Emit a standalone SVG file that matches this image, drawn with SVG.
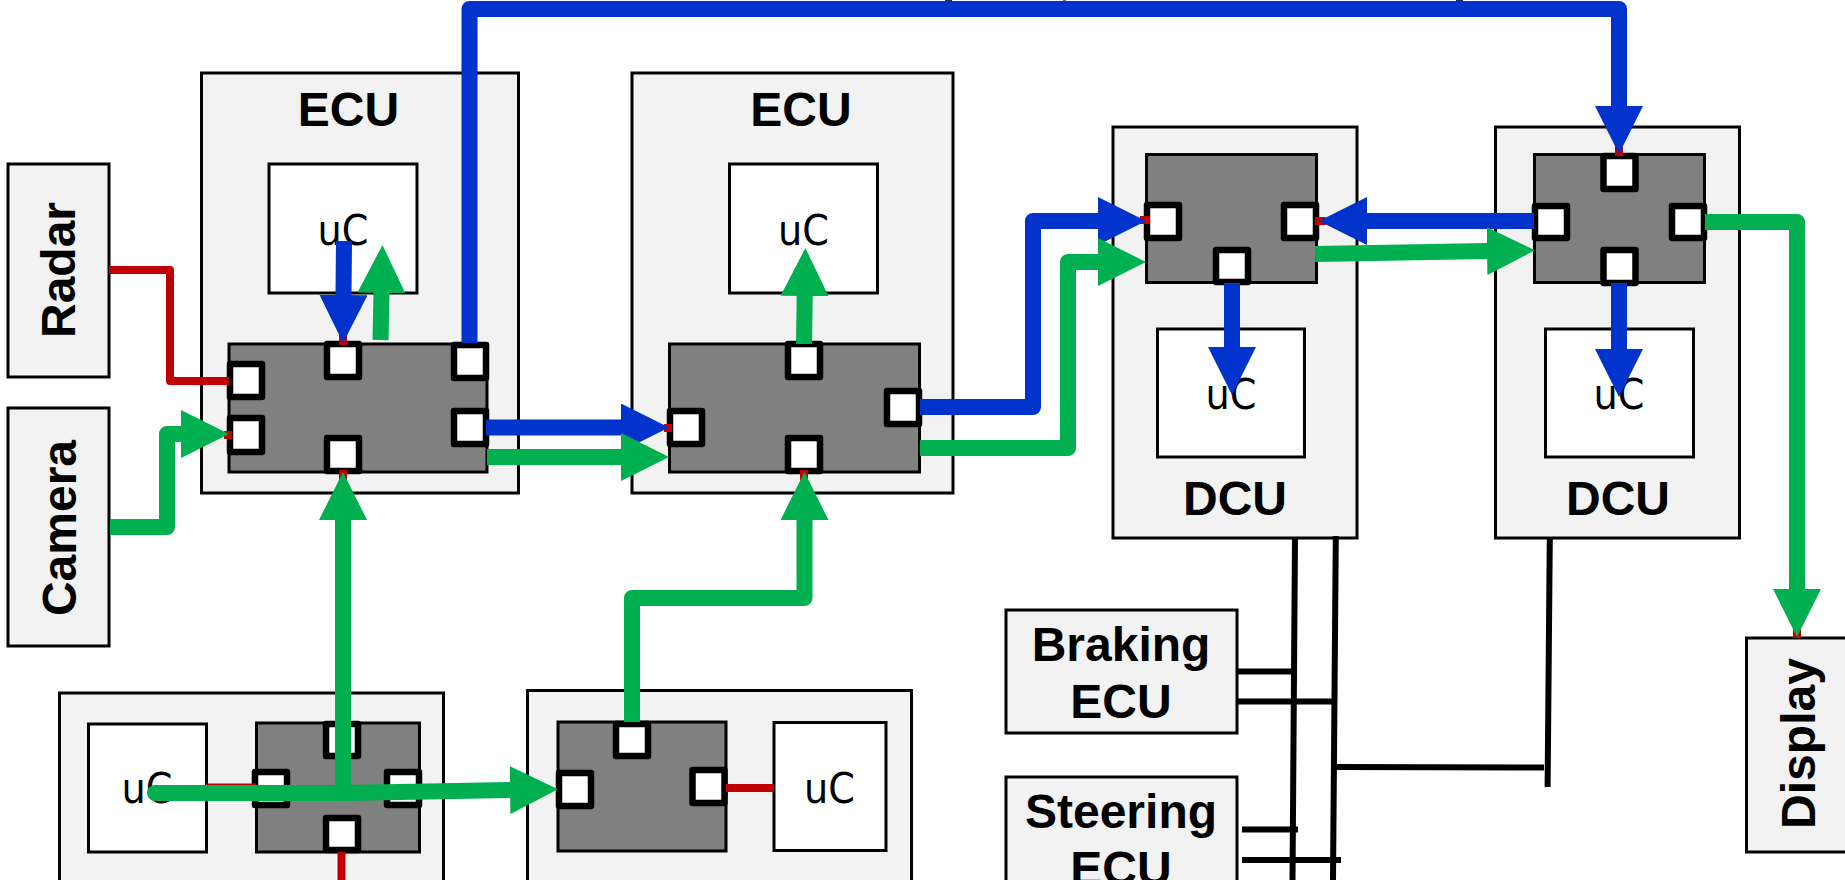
<svg xmlns="http://www.w3.org/2000/svg" width="1845" height="880" viewBox="0 0 1845 880">
<style>
.box{fill:#f2f2f2;stroke:#000;stroke-width:3}
.uc{fill:#fff;stroke:#000;stroke-width:3}
.gw{fill:#808080;stroke:#000;stroke-width:3}
.port{fill:#fff;stroke:#000;stroke-width:6.500;stroke-linejoin:round}
.t{font-family:"Liberation Sans",Arial,sans-serif;font-weight:700;font-size:48px;text-anchor:middle;fill:#000}
.u{font-family:"DejaVu Sans Condensed","DejaVu Sans",sans-serif;font-size:42.500px;text-anchor:middle;fill:#000}
.l{fill:none;stroke-linejoin:round;stroke-width:16}
.b{stroke:#0033cc}
.g{stroke:#00b050}
.bm{marker-end:url(#hb)}
.gm{marker-end:url(#hg)}
.r{fill:none;stroke:#c00000;stroke-width:8;stroke-linejoin:round}
.k{fill:none;stroke:#000;stroke-width:6}
</style>
<defs>
<marker id="hb" markerUnits="userSpaceOnUse" markerWidth="49" markerHeight="48" refX="1" refY="24" orient="auto"><path d="M0 0L48 24L0 48Z" fill="#0033cc"/></marker>
<marker id="hg" markerUnits="userSpaceOnUse" markerWidth="49" markerHeight="48" refX="1" refY="24" orient="auto"><path d="M0 0L48 24L0 48Z" fill="#00b050"/></marker>
</defs>
<rect x="945" y="0" width="7" height="4" fill="#10307a"/>
<rect x="1063" y="0" width="3" height="2" fill="#667"/>
<rect x="1456" y="0" width="7" height="4" fill="#10307a"/>
<g id="radar"><rect class="box" x="8" y="164" width="101" height="213"/><text class="t" transform="translate(75 270) rotate(-90)">Radar</text></g>
<g id="camera"><rect class="box" x="8" y="408" width="101" height="238"/><text class="t" transform="translate(76 528) rotate(-90)">Camera</text></g>
<g id="ecu1">
<rect class="box" x="201.500" y="73" width="317" height="420"/>
<text class="t" x="348.500" y="126">ECU</text>
<rect class="uc" x="269" y="164" width="148" height="129"/>
<text class="u" x="343" y="245">uC</text>
<rect class="gw" x="229" y="344" width="258" height="128"/>
<rect class="port" x="230" y="364" width="32" height="33"/>
<rect class="port" x="230" y="418" width="32" height="34"/>
<rect class="port" x="327" y="344" width="32" height="33"/>
<rect class="port" x="327" y="438" width="32" height="33"/>
<rect class="port" x="454" y="345" width="32" height="33"/>
<rect class="port" x="454" y="411" width="32" height="33"/>
</g>
<g id="ecu2">
<rect class="box" x="632" y="73" width="321" height="420"/>
<text class="t" x="801" y="126">ECU</text>
<rect class="uc" x="729.500" y="164" width="148" height="129"/>
<text class="u" x="803.500" y="245">uC</text>
<rect class="gw" x="669.500" y="344" width="250" height="128"/>
<rect class="port" x="670" y="411" width="32" height="33"/>
<rect class="port" x="788" y="344" width="32" height="33"/>
<rect class="port" x="788" y="438" width="32" height="33"/>
<rect class="port" x="887" y="391" width="32" height="33"/>
</g>
<g id="dcu1">
<rect class="box" x="1113" y="127" width="244" height="411"/>
<rect class="gw" x="1146.500" y="154.500" width="170" height="128"/>
<rect class="port" x="1147" y="205" width="32" height="33"/>
<rect class="port" x="1284" y="205" width="32" height="33"/>
<rect class="port" x="1216" y="250" width="32" height="32"/>
<rect class="uc" x="1157.500" y="329" width="147" height="128"/>
<text class="u" x="1231" y="409">uC</text>
<text class="t" x="1235" y="515">DCU</text>
</g>
<g id="dcu2">
<rect class="box" x="1495.500" y="127" width="244" height="411"/>
<rect class="gw" x="1534.500" y="154.500" width="170" height="128"/>
<rect class="port" x="1603.500" y="156" width="32" height="33"/>
<rect class="port" x="1535" y="206" width="32" height="32"/>
<rect class="port" x="1672" y="206" width="32" height="32"/>
<rect class="port" x="1603.500" y="250" width="32" height="33"/>
<rect class="uc" x="1545.500" y="329" width="148" height="128"/>
<text class="u" x="1619" y="409">uC</text>
<text class="t" x="1618" y="515">DCU</text>
</g>
<g id="braking"><rect class="box" x="1006" y="610" width="231" height="123"/><text class="t"><tspan x="1121" y="661">Braking</tspan><tspan x="1121" y="718">ECU</tspan></text></g>
<g id="steering"><rect class="box" x="1006" y="777" width="231" height="110"/><text class="t"><tspan x="1121" y="827.500">Steering</tspan><tspan x="1121" y="885">ECU</tspan></text></g>
<g id="display"><rect class="box" x="1746.500" y="638" width="105" height="214"/><text class="t" transform="translate(1814.500 743.500) rotate(-90)">Display</text></g>
<g id="ecu3">
<rect class="box" x="59.500" y="693" width="384" height="200"/>
<rect class="uc" x="88.500" y="724" width="118" height="128"/>
<text class="u" x="147" y="803">uC</text>
<rect class="gw" x="256.500" y="723" width="163" height="129"/>
<rect class="port" x="326" y="724" width="32" height="32"/>
<rect class="port" x="255" y="772" width="32" height="33"/>
<rect class="port" x="387" y="772" width="32" height="33"/>
<rect class="port" x="326" y="818" width="32" height="32"/>
</g>
<g id="ecu4">
<rect class="box" x="527.500" y="690.500" width="384" height="200"/>
<rect class="gw" x="558" y="722" width="168" height="129"/>
<rect class="uc" x="774" y="722.500" width="112" height="128"/>
<text class="u" x="829.500" y="803">uC</text>
<rect class="port" x="616" y="724" width="32" height="32"/>
<rect class="port" x="559" y="773" width="32" height="33"/>
<rect class="port" x="692.500" y="770" width="32" height="33"/>
</g>
<g id="connectors">
<path class="r" d="M109 270H170V381H229"/>
<path class="r" d="M224 435H232M343 332V345M343 470V482M664 428H672M804 470V482M1140 220H1150M1315 221H1326M1619 145V156M1797 625V638"/>
<path class="r" d="M206 785H256" style="stroke-width:3"/>
<path class="r" d="M341.500 852V880"/>
<path class="r" d="M726 788H774"/>
<path class="k" d="M1295 537L1292.500 880M1335.800 536L1333 880M1549.800 537L1547.600 787"/>
<path class="k" d="M1237 671.500H1294M1237 701.500H1334M1336 767L1544 767.500M1242 829.500H1298M1242 860H1341"/>
<path class="l g gm" d="M110 527H167V434H182"/>
<path class="l b bm" d="M344 241L343.500 296"/>
<path class="l g gm" d="M380.500 340L381.500 292"/>
<path class="l b bm" d="M469.500 343V9H1619V107"/>
<path class="l b bm" d="M486 427.500H622"/>
<path class="l g gm" d="M487 457H622"/>
<path class="l g gm" d="M804 344L804.700 295"/>
<path class="l b bm" d="M920 407H1033V221H1099"/>
<path class="l g gm" d="M920 448H1068V262H1099"/>
<path class="l b bm" d="M1232 283V348"/>
<path class="l b bm" d="M1534 221H1366"/>
<path class="l g gm" d="M1315 254L1488 251"/>
<path class="l b bm" d="M1619 283V350"/>
<path class="l g gm" d="M1705 222H1797V590"/>
<path class="l g gm" d="M343 795V519"/>
<path class="l g" d="M155 793H343" style="stroke-linecap:round"/>
<path class="l g gm" d="M343 793L511 790"/>
<path class="l g gm" d="M632 722V598H804.500V519"/>
</g>
</svg>
